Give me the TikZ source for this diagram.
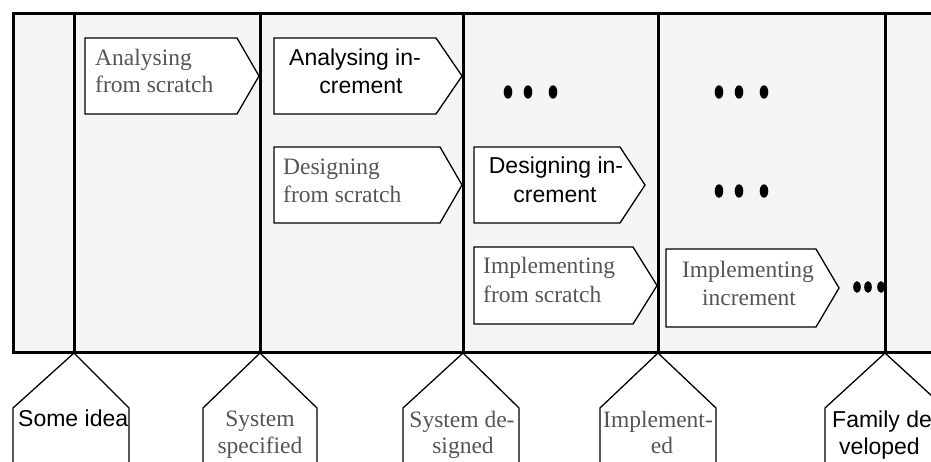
\documentclass[tikz,border=0pt]{standalone}
\usepackage{fontspec}
\setmainfont{Liberation Serif}
\setsansfont{Liberation Sans}
\definecolor{panel}{HTML}{F5F5F5}
\definecolor{greytext}{HTML}{555555}
% chevron-shaped activity box: left, top, right of body, tip x, bottom
\newcommand{\chevbox}[5]{\draw[box] (#1,#2) -- (#3,#2) -- (#4,{(#2+#5)/2}) -- (#3,#5) -- (#1,#5) -- cycle;}
% milestone marker hanging below the time line: left, tip x, right
\newcommand{\milemark}[3]{\draw[box] (#1,475) -- (#1,408) -- (#2,353) -- (#3,408) -- (#3,475);}
% elongated bullet
\newcommand{\bigdot}[3]{\fill (#1,#2) ellipse [x radius=#3, y radius={1.55*#3}];}
\begin{document}
\begin{tikzpicture}[x=1pt,y=-1pt,
  frameline/.style={line width=3pt, line cap=rect},
  box/.style={draw=black, fill=white, line width=1.3pt, line join=miter},
  serif/.style={font=\fontsize{23.5}{27}\selectfont\rmfamily, text=greytext, inner sep=0pt},
  sans/.style={font=\fontsize{23}{28}\selectfont\sffamily, text=black, inner sep=0pt}]
\useasboundingbox (0,0) rectangle (931,461);
\clip (0,0) rectangle (931,461);

% shaded phase area
\fill[panel] (13,13) rectangle (931,352);

% activity boxes
\chevbox{85}{38}{237}{259}{114}
\chevbox{274}{38}{436}{462}{114}
\chevbox{274}{147}{440}{462}{223}
\chevbox{474}{147}{620}{645}{223}
\chevbox{474}{247}{633}{657}{324}
\chevbox{666}{249}{816}{839}{327}

\node[serif, anchor=base west] (a1) at (95,65) {Analysing};
\node[serif, anchor=base west] (a2) at (95,92) {from scratch};
\node[sans, anchor=base] (b1) at (355,65) {Analysing in-};
\node[sans, anchor=base] (b2) at (361,93) {crement};
\node[serif, anchor=base west] (c1) at (283,174) {Designing};
\node[serif, anchor=base west] (c2) at (283,202) {from scratch};
\node[sans, anchor=base] (d1) at (556,173) {Designing in-};
\node[sans, anchor=base] (d2) at (555,202) {crement};
\node[serif, anchor=base west] (e1) at (483,273) {Implementing};
\node[serif, anchor=base west] (e2) at (483,302) {from scratch};
\node[serif, anchor=base] (f1) at (748,277) {Implementing};
\node[serif, anchor=base] (f2) at (749,305) {increment};

% continuation dots
\bigdot{508}{92}{4.3}
\bigdot{528}{92}{4.3}
\bigdot{553}{92}{4.3}
\bigdot{719}{92}{4.3}
\bigdot{739}{92}{4.3}
\bigdot{764}{92}{4.3}
\bigdot{719}{191}{4.3}
\bigdot{739}{191}{4.3}
\bigdot{764}{191}{4.3}
\bigdot{857}{287}{3.8}
\bigdot{868}{287}{3.8}
\bigdot{881}{287}{3.8}

% phase frame
\draw[frameline] (931,13) -- (13,13) -- (13,352) -- (931,352);
\foreach \xx in {74,260,463,658,885} \draw[frameline] (\xx,13) -- (\xx,352);

% milestones
\milemark{13}{74}{129}
\milemark{203}{260}{317}
\milemark{403}{463}{519}
\milemark{600}{658}{716}
\milemark{825}{885}{945}

\node[sans, anchor=base west] (m1) at (18,426) {Some idea};
\node[serif, anchor=base] (m2a) at (260,426) {System};
\node[serif, anchor=base] (m2b) at (260,453) {specified};
\node[serif, anchor=base] (m3a) at (462,427) {System de-};
\node[serif, anchor=base] (m3b) at (463,453) {signed};
\node[serif, anchor=base] (m4a) at (658,427) {Implement-};
\node[serif, anchor=base] (m4b) at (662,453) {ed};
\node[sans, anchor=base west] (m5a) at (832,427) {Family de};
\node[sans, anchor=base west] (m5b) at (839,454) {veloped};
\end{tikzpicture}
\end{document}
